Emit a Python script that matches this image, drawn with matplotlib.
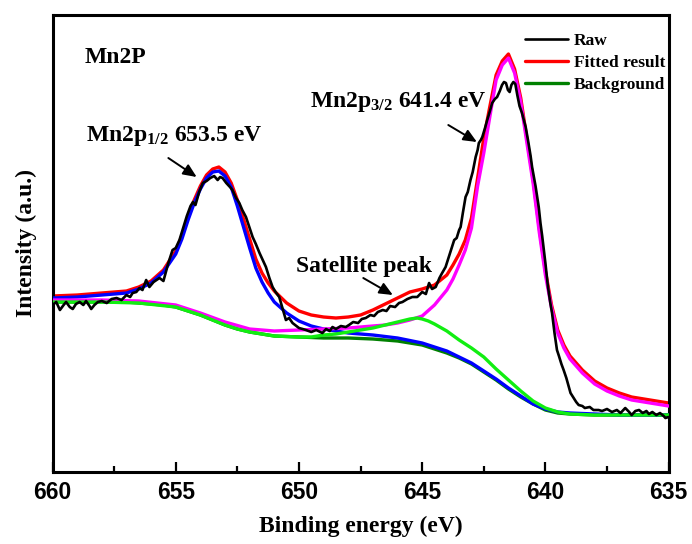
"""
Mn 2p XPS spectrum of Mn2P with peak-fit components.
"""

import matplotlib

matplotlib.use("Agg")
import matplotlib.pyplot as plt
from matplotlib.ticker import MultipleLocator

# ---- data (binding energy in eV, intensity in arbitrary units) ----

raw_energy = [
    660.0, 659.85, 659.7, 659.55, 659.45, 659.3, 659.18, 659.05, 658.9, 658.75,
    658.64, 658.5, 658.43, 658.3, 658.16, 658.0, 657.8, 657.6, 657.4, 657.2,
    657.0, 656.85, 656.75, 656.6, 656.47, 656.35, 656.2, 656.07, 655.9, 655.66,
    655.5, 655.3, 655.13, 655.0, 654.85, 654.7, 654.55, 654.4, 654.3, 654.2,
    654.05, 653.9, 653.75, 653.6, 653.44, 653.3, 653.2, 653.1, 652.95, 652.8,
    652.7, 652.55, 652.42, 652.3, 652.15, 652.0, 651.88, 651.75, 651.6, 651.45,
    651.34, 651.2, 651.07, 650.95, 650.8, 650.65, 650.53, 650.4, 650.26, 650.1,
    650.0, 649.85, 649.72, 649.5, 649.3, 649.05, 648.9, 648.75, 648.64, 648.5,
    648.3, 648.1, 647.97, 647.8, 647.6, 647.45, 647.29, 647.1, 646.95, 646.8,
    646.6, 646.45, 646.3, 646.1, 645.94, 645.8, 645.6, 645.4, 645.2, 645.0,
    644.85, 644.72, 644.6, 644.45, 644.3, 644.19, 644.05, 643.92, 643.8, 643.7,
    643.6, 643.5, 643.44, 643.35, 643.24, 643.15, 643.04, 642.95, 642.83, 642.75,
    642.7, 642.62, 642.56, 642.45, 642.36, 642.25, 642.16, 642.05, 641.96, 641.85,
    641.76, 641.68, 641.6, 641.52, 641.45, 641.38, 641.3, 641.22, 641.14, 641.05,
    640.95, 640.8, 640.7, 640.6, 640.54, 640.4, 640.27, 640.2, 640.13, 640.0,
    639.9, 639.8, 639.73, 639.63, 639.53, 639.45, 639.35, 639.26, 639.15, 639.05,
    638.98, 638.85, 638.75, 638.65, 638.5, 638.4, 638.2, 638.05, 637.84, 637.7,
    637.5, 637.3, 637.1, 636.95, 636.76, 636.6, 636.5, 636.35, 636.2, 636.05,
    635.9, 635.8, 635.66, 635.5, 635.35, 635.2, 635.13, 635.0,
]
raw_intensity = [
    163, 166, 158, 163, 166, 161, 159, 164, 166, 163,
    167, 162, 159, 163, 166, 167, 165, 169, 170, 168,
    173, 171, 175, 176, 180, 178, 188, 181, 186, 190,
    187, 205, 218, 220, 228, 240, 252, 262, 266, 263,
    276, 285, 287, 290, 292, 288, 291, 290, 285, 281,
    278, 270, 265, 258, 251, 240, 231, 224, 215, 207,
    201, 190, 181, 176, 171, 158, 148, 150, 145, 142,
    140, 139, 138, 136, 138, 135, 139, 137, 141, 139,
    142, 141, 143, 146, 145, 149, 150, 153, 152, 156,
    158, 157, 162, 161, 165, 166, 169, 171, 171, 176,
    174, 185, 179, 181, 190, 195, 201, 211, 220, 228,
    230, 238, 241, 255, 271, 276, 288, 296, 311, 318,
    325, 328, 331, 340, 348, 357, 365, 369, 371, 377,
    383, 386, 385, 378, 376, 383, 386, 384, 373, 362,
    355, 341, 327, 312, 301, 282, 261, 245, 232, 205,
    182, 165, 155, 135, 118, 112, 104, 98, 90, 81,
    75, 70, 66, 63, 62, 60, 61, 58, 58, 57,
    59, 56, 58, 55, 60, 56, 53, 57, 58, 55,
    57, 54, 56, 53, 55, 52, 50, 51,
]

fit_energy = [
    660, 659, 658, 657, 656.5, 656, 655.5, 655, 654.75, 654.5,
    654.25, 654, 653.75, 653.5, 653.25, 653, 652.75, 652.5, 652.25, 652,
    651.75, 651.5, 651.25, 651, 650.5, 650, 649.5, 649, 648.5, 648,
    647.5, 647, 646.5, 646, 645.5, 645, 644.5, 644, 643.75, 643.5,
    643.25, 643, 642.75, 642.5, 642.25, 642, 641.75, 641.5, 641.25, 641,
    640.75, 640.5, 640.25, 640, 639.75, 639.5, 639.25, 639, 638.5, 638,
    637.5, 637, 636.5, 636, 635.5, 635,
]
fit_intensity = [
    172, 173, 175, 177, 181, 187, 198, 217, 232, 251,
    268, 282, 293, 299, 301, 296, 285, 268, 249, 229,
    209, 195, 185, 177, 165, 157, 153, 151, 150, 151,
    153, 158, 164, 170, 176, 179, 183, 193, 203, 214,
    228, 250, 290, 330, 362, 393, 407, 414, 399, 370,
    329, 289, 240, 197, 163, 138, 123, 112, 98, 87,
    80, 75, 71, 69, 67, 65,
]

p12_energy = [
    660, 659, 658, 657, 656.5, 656, 655.5, 655, 654.75, 654.5,
    654.25, 654, 653.75, 653.5, 653.25, 653, 652.75, 652.5, 652.25, 652,
    651.75, 651.5, 651.25, 651, 650.5, 650, 649.5, 649, 648.5, 648,
    647.5, 647, 646, 645, 644.5, 644, 643.5, 643, 642.5, 642,
    641.5, 641, 640.5, 640, 639.5, 639, 638, 637, 635,
]
p12_intensity = [
    170, 171, 173, 175, 179, 185, 196, 214, 229, 248,
    265, 279, 290, 296, 297, 292, 281, 262, 241, 220,
    200, 186, 175, 166, 155, 147, 142, 139, 137, 135,
    134, 133, 130, 125, 121, 117, 111, 105, 97, 89,
    80, 72, 64, 59, 56, 55, 54, 53, 53,
]

p32_energy = [
    660, 658, 656.5, 655, 654.5, 654, 653, 652, 651, 650,
    649, 648, 647, 646.5, 646, 645.5, 645, 644.5, 644, 643.75,
    643.5, 643.25, 643, 642.75, 642.5, 642.25, 642, 641.75, 641.5, 641.25,
    641, 640.75, 640.5, 640.25, 640, 639.75, 639.5, 639.25, 639, 638.5,
    638, 637.5, 637, 636.5, 636, 635.5, 635,
]
p32_intensity = [
    168, 168, 167, 163, 159, 155, 146, 139, 137, 138,
    139, 140, 142, 143, 145, 148, 152, 163, 178, 189,
    203, 218, 240, 282, 315, 352, 388, 403, 410, 395,
    366, 325, 285, 236, 193, 160, 135, 120, 109, 95,
    84, 77, 72, 68, 66, 64, 62,
]

sat_energy = [
    660, 658, 656.5, 655, 654.5, 654, 653.5, 653, 652.5, 652,
    651.5, 651, 650, 649.5, 649, 648.5, 648, 647.5, 647, 646.5,
    646, 645.5, 645.2, 645, 644.75, 644.5, 644, 643.5, 643, 642.5,
    642, 641.5, 641, 640.5, 640, 639.5, 639, 638, 635,
]
sat_intensity = [
    166, 166, 165, 161, 157, 153, 148, 143, 139, 136,
    134, 132, 131, 131, 133, 134, 136, 138, 140, 143,
    146, 149, 150, 149, 147, 144, 137, 128, 120, 111,
    99, 88, 77, 67, 60, 56, 54, 53, 53,
]

bg_energy = [
    660, 658, 657, 656, 655.5, 655, 654.5, 654, 653.5, 653,
    652.5, 652, 651.5, 651, 650, 649, 648, 647, 646, 645.5,
    645, 644.5, 644, 643.5, 643, 642.5, 642, 641.5, 641, 640.5,
    640, 639.5, 639, 638, 635,
]
bg_intensity = [
    166, 166, 166, 164, 163, 161, 157, 153, 148, 143,
    139, 136, 134, 132, 131, 130, 130, 129, 127, 125,
    123, 119, 115, 110, 104, 96, 88, 79, 71, 64,
    58, 55, 54, 53, 53,
]

# ---- annotations (energy, intensity) ----
label_mn2p_pos = (658.68, 405)
label_p12_pos = (658.64, 327)
label_p32_pos = (649.55, 361)
label_sat_pos = (650.12, 196)
arrow_p12 = ((655.30, 310), (654.15, 291))
arrow_p32 = ((643.94, 343), (642.78, 326))
arrow_sat = ((647.39, 190), (646.19, 173))

SERIF = "Liberation Serif"
SANS = "Liberation Sans"


def main() -> None:
    plt.rcParams["font.family"] = SERIF
    plt.rcParams["font.weight"] = "bold"
    plt.rcParams["mathtext.fontset"] = "custom"
    plt.rcParams["mathtext.rm"] = "Liberation Serif:bold"
    plt.rcParams["mathtext.it"] = "Liberation Serif:bold"
    plt.rcParams["mathtext.bf"] = "Liberation Serif:bold"
    plt.rcParams["lines.solid_joinstyle"] = "round"
    plt.rcParams["lines.solid_capstyle"] = "round"

    fig = plt.figure(figsize=(6.92, 5.44), dpi=100)
    ax = fig.add_axes([0.0759, 0.1329, 0.8903, 0.8395])

    ax.plot(fit_energy, fit_intensity, color="#FF0000", lw=2.4, zorder=2, label="Fitted result")
    ax.plot(bg_energy, bg_intensity, color="#008000", lw=2.4, zorder=3, label="Background")
    ax.plot(p12_energy, p12_intensity, color="#0000FF", lw=2.4, zorder=4)
    ax.plot(p32_energy, p32_intensity, color="#FF00FF", lw=2.4, zorder=5)
    ax.plot(sat_energy, sat_intensity, color="#11EE11", lw=2.4, zorder=6)
    ax.plot(raw_energy, raw_intensity, color="black", lw=1.9, zorder=7, label="Raw")

    ax.set_xlim(660, 635)
    ax.set_ylim(-3.7, 453)

    ax.xaxis.set_major_locator(MultipleLocator(5))
    ax.xaxis.set_minor_locator(MultipleLocator(2.5))
    ax.tick_params(axis="x", which="major", direction="in", length=7, width=1.6, pad=7,
                   top=False)
    ax.tick_params(axis="x", which="minor", direction="in", length=4.5, width=1.6, top=False)
    ax.set_yticks([])
    for label in ax.get_xticklabels():
        label.set_fontfamily(SANS)
        label.set_fontweight("bold")
        label.set_fontsize(16.5)
    for spine in ax.spines.values():
        spine.set_linewidth(2.2)

    ax.set_xlabel("Binding energy (eV)", fontsize=17, fontweight="bold", labelpad=8)
    ax.set_ylabel("Intensity (a.u.)", fontsize=17, fontweight="bold", labelpad=11)

    ax.text(*label_mn2p_pos, "Mn2P", fontsize=17, fontweight="bold")
    ax.text(*label_p12_pos, r"Mn2p$_{1/2}$ 653.5 eV", fontsize=17, fontweight="bold")
    ax.text(*label_p32_pos, r"Mn2p$_{3/2}$ 641.4 eV", fontsize=17, fontweight="bold")
    ax.text(*label_sat_pos, "Satellite peak", fontsize=17, fontweight="bold")

    for start, end in (arrow_p12, arrow_p32, arrow_sat):
        ax.annotate(
            "",
            xy=end,
            xytext=start,
            arrowprops=dict(arrowstyle="-|>,head_length=0.5,head_width=0.22", color="black",
                            lw=1.4, shrinkA=0, shrinkB=0, mutation_scale=16),
        )

    handles, labels = ax.get_legend_handles_labels()
    order = [labels.index("Raw"), labels.index("Fitted result"), labels.index("Background")]
    ax.legend(
        [handles[i] for i in order],
        [labels[i] for i in order],
        loc="upper left",
        bbox_to_anchor=(0.767, 0.96),
        frameon=False,
        handlelength=2.5,
        handletextpad=0.3,
        labelspacing=0.32,
        borderpad=0,
        borderaxespad=0,
        prop={"family": SERIF, "weight": "bold", "size": 12.5},
    )

    fig.savefig("out.png", dpi=100)
    plt.close(fig)


if __name__ == "__main__":
    main()
